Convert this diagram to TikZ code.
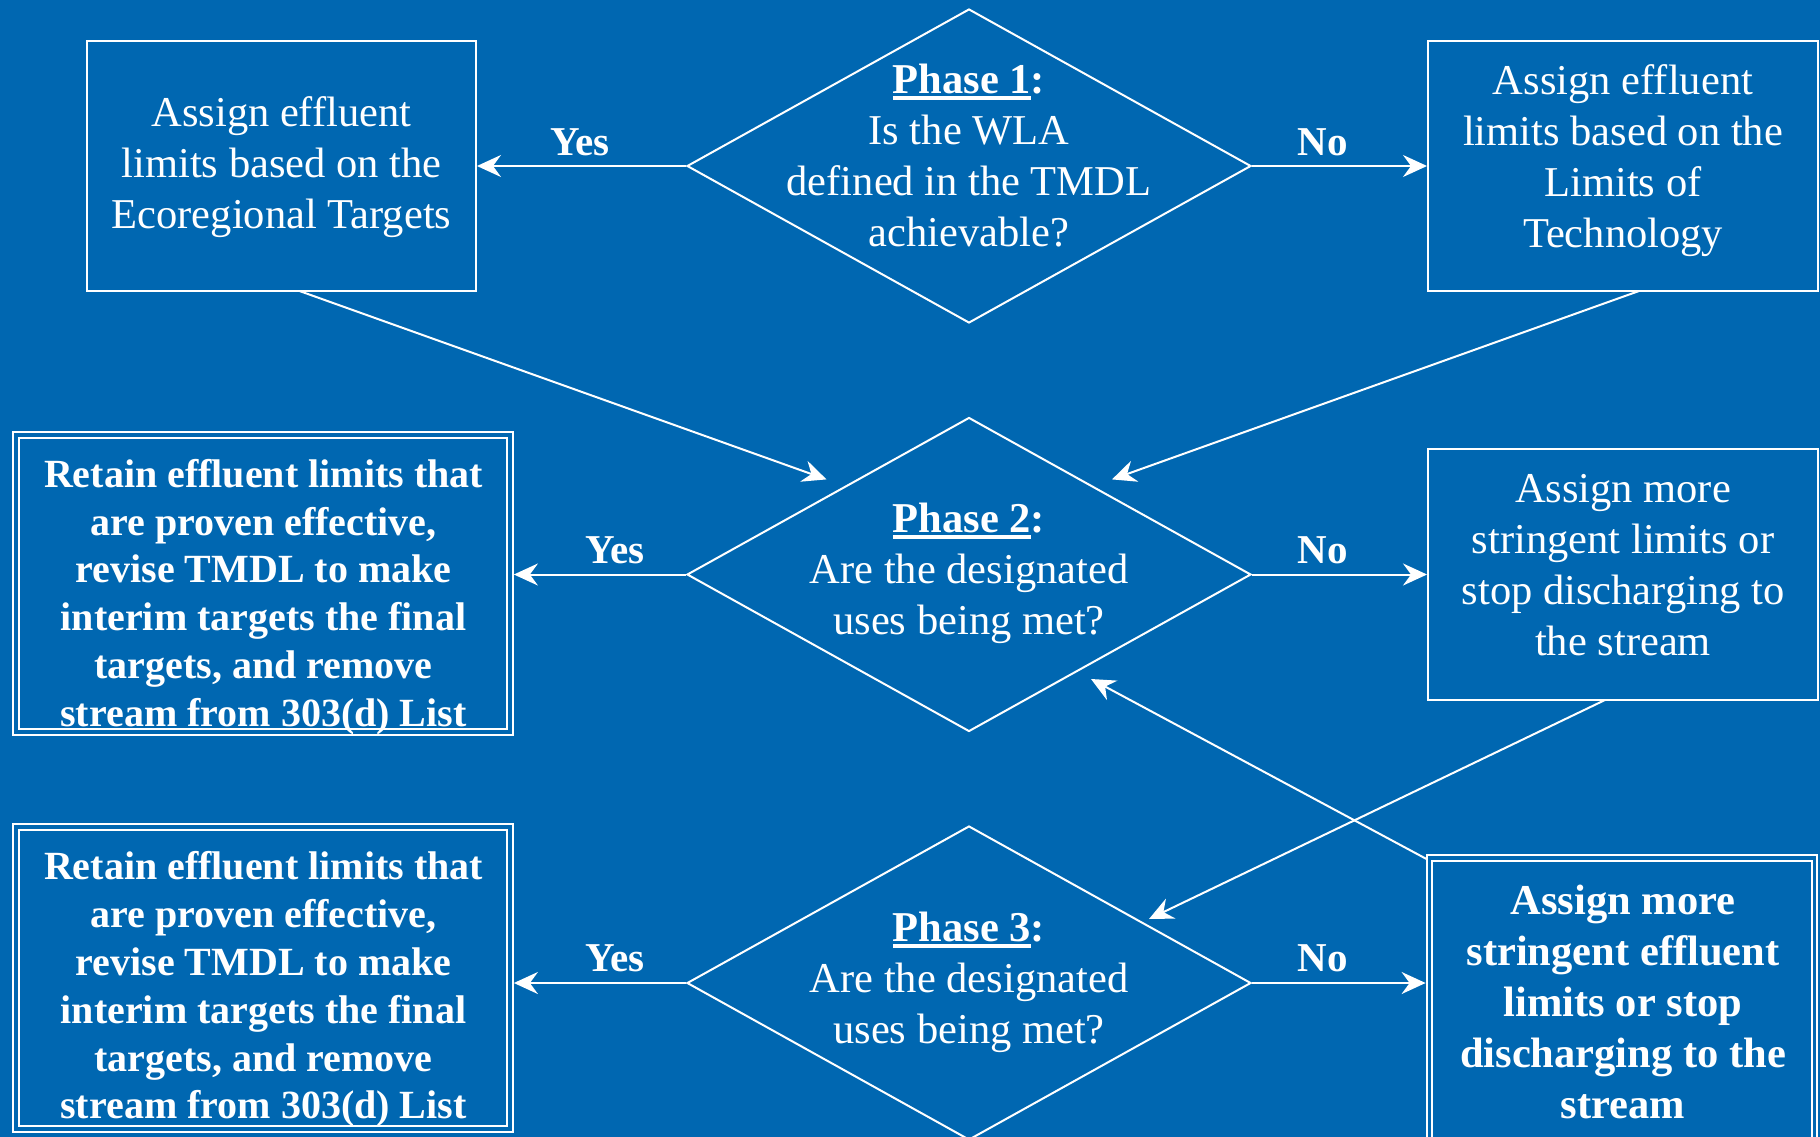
\documentclass[tikz,border=0pt]{standalone}
\usepackage{fontspec}
\setmainfont{Liberation Serif}
\usetikzlibrary{shapes.geometric,arrows.meta}
\definecolor{bg}{RGB}{0,103,177}
\newcommand{\thickul}[1]{\setbox0\hbox{#1}\rlap{\rule[-6pt]{\wd0}{3.5pt}}\box0}
\begin{document}
\begin{tikzpicture}[x=1pt,y=-1pt,
  box/.style={draw=white, line width=2pt, inner sep=0pt, rectangle},
  dbox/.style={draw=white, line width=1.8pt, double=bg, double distance=3.5pt, inner sep=0pt, rectangle},
  dia/.style={diamond, draw=white, line width=2pt, inner sep=0pt, minimum width=564pt, minimum height=314pt},
  txt/.style={text=white, align=center, inner sep=0pt, font=\fontsize{42.5}{51}\selectfont},
  btxt/.style={text=white, align=center, inner sep=0pt, font=\bfseries\fontsize{40}{47.8}\selectfont},
  bftxt/.style={text=white, align=center, inner sep=0pt, font=\bfseries\fontsize{42.5}{51}\selectfont},
  lbl/.style={text=white, inner sep=0pt, font=\bfseries\fontsize{41}{49}\selectfont},
  arr/.style={draw=white, line width=2pt, -{Stealth[length=24pt,width=22pt,inset=8pt]}}
]
\path[use as bounding box, fill=bg] (0,0) rectangle (1820,1137);
\clip (0,0) rectangle (1820,1137);

% Phase 1 row
\node[box, minimum width=389pt, minimum height=250pt] (A) at (281.5,166) {};
\node[txt] (tA) at (281.5,167.5) {Assign effluent\\limits based on the\\Ecoregional Targets};
\node[dia] (d1) at (969,166) {};
\node[txt] (t1) at (969,156) {\textbf{\thickul{Phase 1}:}\\Is the WLA\\defined in the TMDL\\achievable?};
\node[box, minimum width=390pt, minimum height=250pt] (B) at (1623,166) {};
\node[txt] (tB) at (1623,161) {Assign effluent\\limits based on the\\Limits of\\Technology};

% Phase 2 row
\node[dia] (d2) at (969,574.5) {};
\node[txt] (t2) at (969,573.5) {\textbf{\thickul{Phase 2}:}\\Are the designated\\uses being met?};
\node[dbox, minimum width=494pt, minimum height=297pt] (C) at (263,583.5) {};
\node[btxt] (tC) at (263.5,597) {Retain effluent limits that\\are proven effective,\\revise TMDL to make\\interim targets the final\\targets, and remove\\stream from 303(d) List};
\node[box, minimum width=390pt, minimum height=251pt] (D) at (1623,574.5) {};
\node[txt] (tD) at (1623,564.7) {Assign more\\stringent limits or\\stop discharging to\\the stream};

% Phase 3 row
\node[dia] (d3) at (969,983) {};
\node[txt] (t3) at (969,982.5) {\textbf{\thickul{Phase 3}:}\\Are the designated\\uses being met?};
\node[dbox, minimum width=494pt, minimum height=302pt] (E) at (263,978) {};
\node[btxt] (tE) at (263.5,989.5) {Retain effluent limits that\\are proven effective,\\revise TMDL to make\\interim targets the final\\targets, and remove\\stream from 303(d) List};
\node[dbox, minimum width=385pt, minimum height=292pt] (F) at (1622,1004) {};
\node[bftxt] (tF) at (1623,1002) {Assign more\\stringent effluent\\limits or stop\\discharging to the\\stream};

% labels
\node[lbl] (y1) at (580,142) {Yes};
\node[lbl] (n1) at (1323,142) {No};
\node[lbl] (y2) at (615,550) {Yes};
\node[lbl] (n2) at (1323,550) {No};
\node[lbl] (y3) at (615,958.6) {Yes};
\node[lbl] (n3) at (1323,958.6) {No};

% connectors
\draw[arr] (d1.west) -- (A.east);
\draw[arr] (d1.east) -- (B.west);
\draw[arr, shorten >=3pt] (d2.west) -- (d2.west -| C.east);
\draw[arr] (d2.east) -- (D.west);
\draw[arr, shorten >=3pt] (d3.west) -- (d3.west -| E.east);
\draw[arr, shorten >=3pt] (d3.east) -- (d3.east -| F.west);

\coordinate (a1s) at (299.5,291);
\coordinate (a1e) at (826.5,479.4);
\coordinate (a2s) at (1639,291);
\coordinate (a2e) at (1112,479.4);
\coordinate (a3s) at (1605,700);
\coordinate (a3e) at (1149,919);
\coordinate (a4s) at (1426.5,859);
\coordinate (a4e) at (1091,679);
\draw[arr] (a1s) -- (a1e);
\draw[arr] (a2s) -- (a2e);
\draw[arr] (a3s) -- (a3e);
\draw[arr] (a4s) -- (a4e);
\end{tikzpicture}
\end{document}
